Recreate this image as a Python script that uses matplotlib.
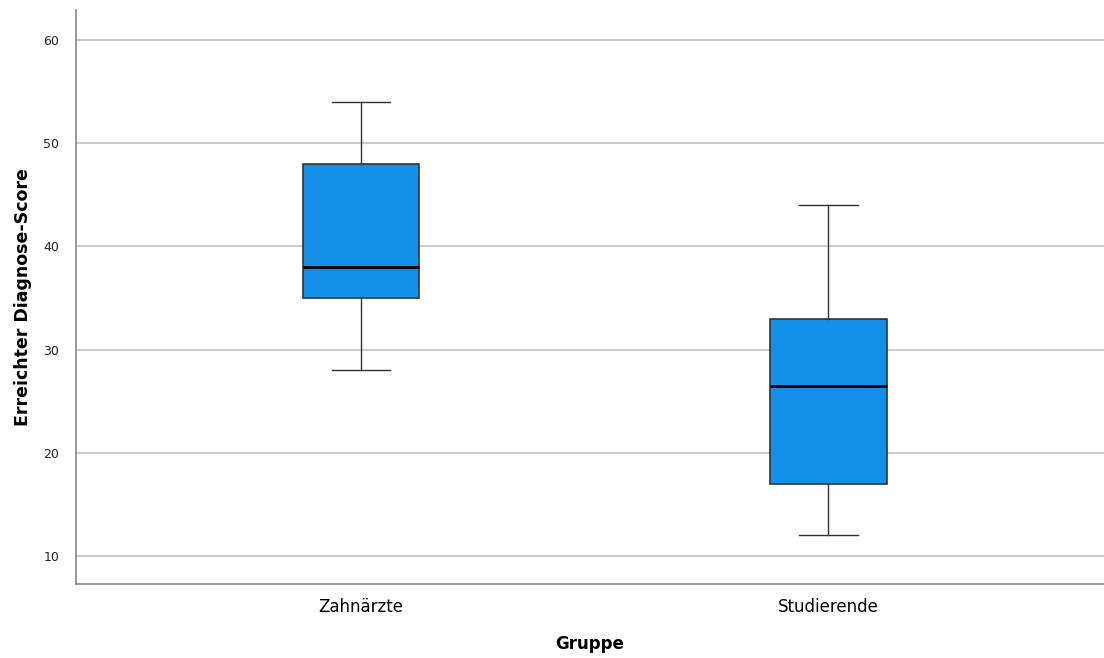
import matplotlib.pyplot as plt

gruppen = ['Zahnärzte', 'Studierende']
minimum = [28, 12]
q1 = [35, 17]
median = [38, 26.5]
q3 = [48, 33]
maximum = [54, 44]
yticks = [10, 20, 30, 40, 50, 60]

stats = []
for i, g in enumerate(gruppen):
    stats.append({'label': g, 'whislo': minimum[i], 'q1': q1[i], 'med': median[i],
                  'q3': q3[i], 'whishi': maximum[i], 'fliers': []})

fig = plt.figure(figsize=(11.04, 6.58), dpi=100)
ax = fig.add_axes([76 / 1104, 1 - 584 / 658, 1 - 76 / 1104, 574 / 658])

ax.bxp(stats, positions=[1, 2], widths=0.25, patch_artist=True,
       boxprops=dict(facecolor='#1490e8', edgecolor='#333333', linewidth=1.2),
       medianprops=dict(color='black', linewidth=2),
       whiskerprops=dict(color='#333333', linewidth=1),
       capprops=dict(color='#333333', linewidth=1),
       capwidths=0.125, zorder=3)

ax.set_xlim(0.39, 2.59)
ax.set_ylim(7.3, 62.9)
ax.set_yticks(yticks)
ax.yaxis.grid(True, color='#cccccc', linewidth=1.5, zorder=0)
ax.set_axisbelow(True)
ax.tick_params(axis='both', length=0)
ax.tick_params(axis='y', labelsize=9, pad=12, labelcolor='#222222')
ax.tick_params(axis='x', labelsize=12, pad=10)

for s in ['top', 'right']:
    ax.spines[s].set_visible(False)
for s in ['left', 'bottom']:
    ax.spines[s].set_color('#888888')
    ax.spines[s].set_linewidth(1.2)

ax.set_xlabel('Gruppe', fontsize=12, fontweight='bold', labelpad=14)
ax.set_ylabel('Erreichter Diagnose-Score', fontsize=12.5, fontweight='bold', labelpad=8)

fig.savefig('out.png', dpi=100)
